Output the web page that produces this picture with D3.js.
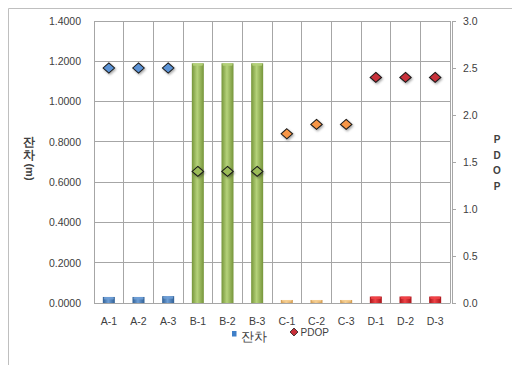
<!DOCTYPE html>
<html>
<head>
<meta charset="utf-8">
<script src="https://cdn.jsdelivr.net/npm/d3@7"></script>
<style>
  html, body { margin: 0; padding: 0; background: #fff; }
  svg { display: block; }
  text { font-family: "Liberation Sans", Arial, sans-serif; fill: #404040; }
</style>
</head>
<body>
<svg id="chart" width="512" height="365"></svg>
<script>
// Survey points and their group
const categories = ["A-1","A-2","A-3","B-1","B-2","B-3","C-1","C-2","C-3","D-1","D-2","D-3"];
const groups     = ["A","A","A","B","B","B","C","C","C","D","D","D"];
// Residual (m), left axis
const residuals  = [0.030, 0.030, 0.034, 1.19, 1.19, 1.19, 0.015, 0.015, 0.015, 0.032, 0.032, 0.032];
// PDOP, right axis
const pdop       = [2.5, 2.5, 2.5, 1.4, 1.4, 1.4, 1.8, 1.9, 1.9, 2.4, 2.4, 2.4];
// Tick values
const leftTicks  = [0, 0.2, 0.4, 0.6, 0.8, 1.0, 1.2, 1.4];
const rightTicks = [0, 0.5, 1.0, 1.5, 2.0, 2.5, 3.0];

const barColors = { A: ["#2f5f94", "#6f9fd6"], B: ["#76953a", "#b5d27a"], C: ["#d19a4e", "#f6cf94"], D: ["#a8141a", "#ef4347"] };
const dotColors = { A: "#5b93d6", B: "#9bbb59", C: "#f79646", D: "#c8303a" };

const svg = d3.select("#chart");
const M = { left: 94, right: 450, top: 21, bottom: 303 };

const x = d3.scaleBand().domain(categories).range([M.left, M.right]).paddingInner(0).paddingOuter(0);
const yL = d3.scaleLinear().domain([0, 1.4]).range([M.bottom, M.top]);
const yR = d3.scaleLinear().domain([0, 3.0]).range([M.bottom, M.top]);

// Outer chart frame
svg.append("path").attr("d", "M8.5,365 L8.5,8.5 L512,8.5")
  .attr("fill", "none").attr("stroke", "#bfbfbf").attr("stroke-width", 1);

const defs = svg.append("defs");
Object.entries(barColors).forEach(([g, [dark, light]]) => {
  const lg = defs.append("linearGradient").attr("id", "bar-" + g).attr("x1", 0).attr("x2", 1).attr("y1", 0).attr("y2", 0);
  lg.append("stop").attr("offset", "0%").attr("stop-color", dark);
  lg.append("stop").attr("offset", "45%").attr("stop-color", light);
  lg.append("stop").attr("offset", "100%").attr("stop-color", dark);
});
const sh = defs.append("filter").attr("id", "shadow").attr("x", "-50%").attr("y", "-50%").attr("width", "200%").attr("height", "200%");
sh.append("feDropShadow").attr("dx", 1).attr("dy", 1.5).attr("stdDeviation", 1).attr("flood-color", "#000").attr("flood-opacity", 0.35);

// Gridlines
const grid = svg.append("g").attr("stroke", "#a6a6a6").attr("stroke-width", 1).attr("shape-rendering", "crispEdges");
leftTicks.forEach(t => grid.append("line").attr("x1", M.left).attr("x2", M.right).attr("y1", yL(t)).attr("y2", yL(t)));
categories.forEach(c => grid.append("line").attr("x1", x(c)).attr("x2", x(c)).attr("y1", M.top).attr("y2", M.bottom));
grid.append("line").attr("x1", M.right).attr("x2", M.right).attr("y1", M.top).attr("y2", M.bottom);

// Left axis
const axL = svg.append("g").attr("transform", `translate(${M.left},0)`)
  .call(d3.axisLeft(yL).tickValues(leftTicks).tickFormat(d3.format(".4f")).tickSize(0).tickPadding(13));
axL.select(".domain").attr("stroke", "#a6a6a6");
axL.selectAll("text").attr("font-size", 10.5).attr("fill", "#404040").attr("font-family", "Liberation Sans, Arial, sans-serif");

// Right axis
const axR = svg.append("g").attr("transform", `translate(${M.right + 2},0)`)
  .call(d3.axisRight(yR).tickValues(rightTicks).tickFormat(d3.format(".1f")).tickSize(4).tickPadding(7));
axR.select(".domain").attr("stroke", "#a6a6a6");
axR.selectAll(".tick line").attr("stroke", "#a6a6a6");
axR.selectAll("text").attr("font-size", 10.5).attr("fill", "#404040").attr("font-family", "Liberation Sans, Arial, sans-serif");

// Bottom axis labels
const axB = svg.append("g").attr("transform", `translate(0,${M.bottom})`)
  .call(d3.axisBottom(x).tickSize(0).tickPadding(15));
axB.select(".domain").attr("stroke", "#a6a6a6");
axB.selectAll("text").attr("font-size", 10.5).attr("fill", "#404040").attr("font-family", "Liberation Sans, Arial, sans-serif");

// Residual bars
const barW = 12;
svg.append("g").selectAll("g.bar").data(categories).join("g").attr("class", "bar").each(function (c, i) {
  const g = d3.select(this);
  const g0 = groups[i];
  const bx = x(c) + x.bandwidth() / 2 - barW / 2;
  const top = yL(residuals[i]);
  g.append("rect").attr("x", bx).attr("y", top).attr("width", barW).attr("height", M.bottom - top)
    .attr("fill", `url(#bar-${g0})`);
  g.append("rect").attr("x", bx + 1).attr("y", top).attr("width", barW - 2).attr("height", Math.min(2.5, (M.bottom - top) / 2))
    .attr("fill", barColors[g0][1]).attr("opacity", 0.9).attr("rx", 1);
});

// PDOP markers
const diamond = d3.symbol().type(d3.symbolDiamond2).size(72);
svg.append("g").selectAll("path").data(categories).join("path")
  .attr("d", diamond)
  .attr("transform", (c, i) => `translate(${x(c) + x.bandwidth() / 2},${yR(pdop[i])}) scale(1.08,0.95)`)
  .attr("fill", (c, i) => dotColors[groups[i]])
  .attr("stroke", "#1a1a1a").attr("stroke-width", 1)
  .attr("filter", "url(#shadow)");

// Left axis title: Hangul upright, "(m)" turned sideways
const lt = svg.append("g");
["잔", "차"].forEach((ch, i) => {
  lt.append("text").attr("x", 29).attr("y", 146 + i * 13)
    .attr("text-anchor", "middle").attr("font-size", 11.5).attr("font-weight", "bold").attr("fill", "#222")
    .attr("font-family", "Noto Sans CJK KR, sans-serif").text(ch);
});
lt.append("text").attr("transform", "translate(25.5,172) rotate(90)")
  .attr("text-anchor", "middle").attr("font-size", 11).attr("font-weight", "bold").attr("fill", "#222")
  .text("(m)");

["P", "D", "O", "P"].forEach((ch, i) => {
  svg.append("text").attr("x", 497).attr("y", 143 + i * 15.6)
    .attr("text-anchor", "middle").attr("font-size", 10).attr("font-weight", "bold").attr("fill", "#222")
    .text(ch);
});

// Legend
const lg = svg.append("g");
lg.append("rect").attr("x", 232).attr("y", 331).attr("width", 4.5).attr("height", 5.5).attr("fill", "#3f7fc8");
lg.append("text").attr("x", 241).attr("y", 341).attr("font-size", 13)
  .attr("font-family", "Noto Sans CJK KR, sans-serif").attr("fill", "#404040").text("잔차");
lg.append("path").attr("d", d3.symbol().type(d3.symbolDiamond2).size(40))
  .attr("transform", "translate(294,332)").attr("fill", "#c8303a").attr("stroke", "#1a1a1a").attr("stroke-width", 0.8);
lg.append("text").attr("x", 300.5).attr("y", 336).attr("font-size", 10).attr("fill", "#404040").text("PDOP");
</script>
</body>
</html>
